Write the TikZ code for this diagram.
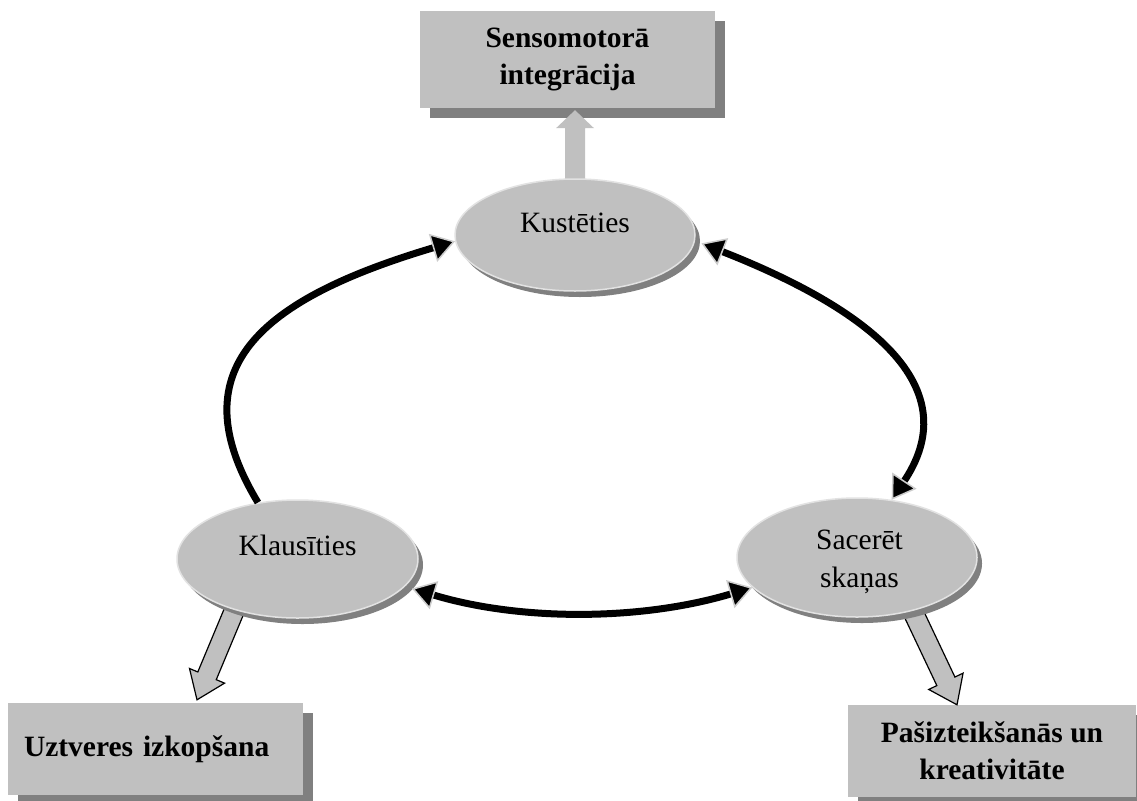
\documentclass[tikz,border=0pt]{standalone}
\usepackage{fontspec}
\setmainfont{Liberation Serif}
\usetikzlibrary{arrows.meta,calc,shapes.geometric,shadows}

\definecolor{silver}{HTML}{C0C0C0}
\definecolor{shade}{HTML}{808080}
\definecolor{rim}{HTML}{E2E2E2}

\pgfdeclarelayer{boxes}
\pgfdeclarelayer{blocks}
\pgfsetlayers{boxes,blocks,main}

% Block arrow: style, start, tip, half shaft width, half head width, head length
\newcommand{\blockarr}[6]{%
  \coordinate (ba-h) at ($(#3)!#6!(#2)$);
  \draw[#1] ($(#2)!#4!90:(#3)$) -- ($(ba-h)!#4!90:(#3)$) -- ($(ba-h)!#5!90:(#3)$)
    -- (#3) -- ($(ba-h)!#5!-90:(#3)$) -- ($(ba-h)!#4!-90:(#3)$)
    -- ($(#2)!#4!-90:(#3)$) -- cycle;}

\tikzset{
  box/.style={rectangle, fill=silver, inner sep=0pt, align=center,
    font=\bfseries\fontsize{29.5pt}{37pt}\selectfont,
    drop shadow={shadow xshift=10pt, shadow yshift=-10pt, fill=shade, opacity=1}},
  oval/.style={ellipse, fill=silver, draw=rim, line width=1.5pt, inner sep=0pt,
    drop shadow={shadow xshift=5pt, shadow yshift=-6pt, fill=shade, opacity=1}},
  lbl/.style={font=\fontsize{29.5pt}{38pt}\selectfont, align=center, inner sep=0pt},
  ring/.style={line width=7pt, draw=black},
  >={Triangle[length=23pt,width=29pt,fill=black,color=gray!40,line width=1.5pt]},
  block/.style={fill=silver, draw=black, line width=1.2pt, line join=miter},
  lift/.style={fill=silver, draw=none}
}

\begin{document}
\begin{tikzpicture}[x=1pt, y=-1pt]
\useasboundingbox (0,0) rectangle (1137,800);

% result boxes
\begin{pgfonlayer}{boxes}
  \fill[white] (0,0) rectangle (1137,800);
  \node[box, minimum width=295pt, minimum height=97pt] (tbox) at (567.5,59.5)
    {Sensomotorā\\integrācija};
  \node[box, minimum width=295pt, minimum height=92pt, text width=263pt, align=left]
    (lbox) at (155.5,749) {Uztveres izkopšana};
  \node[box, minimum width=288pt, minimum height=92pt] (rbox) at (992,751)
    {Pašizteikšanās un\\kreativitāte};
\end{pgfonlayer}

% activity ovals
\node[oval, minimum width=240pt, minimum height=112pt] (kust) at (575,235) {};
\node[oval, minimum width=241pt, minimum height=118pt] (klaus) at (297.5,559) {};
\node[oval, minimum width=240pt, minimum height=119pt] (sacer) at (857,557.5) {};

\node[lbl] (kust-l) at (575,223) {Kustēties};
\node[lbl] (klaus-l) at (297.5,545) {Klausīties};
\node[lbl] (sacer-l) at (859.5,562) {Sacerēt\\skaņas};

% wide arrows from the ovals to the boxes
\coordinate (up-s) at ([yshift=-25pt]kust.north);
\coordinate (up-b) at (kust.north |- tbox.south);
\coordinate (up-t) at ($(up-b)+(0,2)$);
\coordinate (ls) at ([xshift=-52.5pt, yshift=-26pt]klaus.center);
\coordinate (lt) at ([xshift=41.5pt, yshift=3pt]lbox.north);
\coordinate (rs) at ([xshift=48pt, yshift=-37.5pt]sacer.center);
\coordinate (rt) at ([xshift=-35pt]rbox.north);
\begin{pgfonlayer}{blocks}
  \blockarr{lift}{up-s}{up-t}{10pt}{19pt}{18pt}
  \blockarr{block}{ls}{lt}{10pt}{19pt}{26pt}
  \blockarr{block}{rs}{rt}{10pt}{19pt}{26pt}
\end{pgfonlayer}

% cycle of curved arrows
\draw[ring,->] (klaus.125) .. controls (178,370) and (258,300) .. (kust.183);
\draw[ring,<->] ([xshift=7pt]kust.-4) .. controls (841.5,298.5) and (974.5,375.5) .. (sacer.59);
\draw[ring,<->] ([xshift=8pt,yshift=-1pt]klaus.-15) .. controls (520,621) and (640,621) .. (sacer.196);
\end{tikzpicture}
\end{document}
